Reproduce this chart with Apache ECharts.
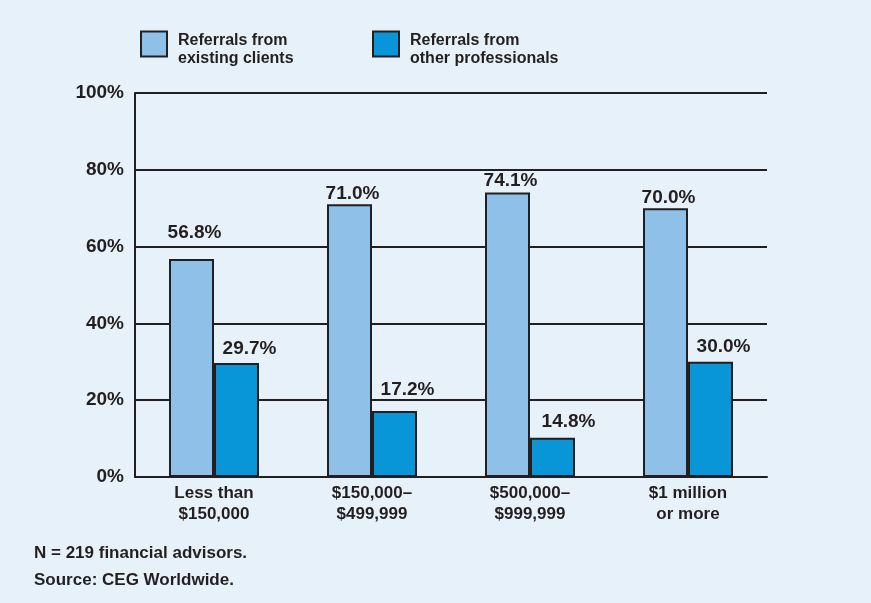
<!DOCTYPE html>
<html>
<head>
<meta charset="utf-8">
<script src="https://cdn.jsdelivr.net/npm/echarts@6/dist/echarts.min.js"></script>
<style>
  html, body { margin: 0; padding: 0; background: #e7f1fa; }
  #chart { width: 871px; height: 603px; }
</style>
</head>
<body>
<div id="chart"></div>
<script>
const categories = ['Less than\n$150,000', '$150,000–\n$499,999', '$500,000–\n$999,999', '$1 million\nor more']
// bar heights as drawn in the picture
const clientsValues = [56.8, 71.0, 74.1, 70.0]
const professionalsValues = [29.7, 17.2, 10.2, 30.0]
// printed labels above the bars
const clientsLabels = ['56.8%', '71.0%', '74.1%', '70.0%']
const professionalsLabels = ['29.7%', '17.2%', '14.8%', '30.0%']
const yTicks = [0, 20, 40, 60, 80, 100]

// label lift above each bar (px), the original sets some labels clear of gridlines
const clientsLift = [17, 1, 2, 1]
const professionalsLift = [5, 12, 7, 6]

const ink = '#231f20'
const font = 'Liberation Sans'

const myChart = echarts.init(document.getElementById('chart'))

const labelStyle = {
  show: true,
  position: 'top',
  color: ink,
  fontFamily: font,
  fontWeight: 'bold',
  fontSize: 19,
}

function buildData(values, labels, lifts, dx) {
  return values.map(function (v, i) {
    return {
      value: v,
      label: Object.assign({}, labelStyle, {
        distance: lifts[i],
        offset: [dx[i], 0],
        formatter: labels[i],
      }),
    }
  })
}

const legendBase = {
  top: 24,
  padding: 0,
  itemWidth: 26,
  itemHeight: 25,
  itemStyle: { borderColor: ink, borderWidth: 2 },
  formatter: function (name) {
    return '{s| }\n' + name.split('\n').map(function (l) { return '{t|' + l + '}' }).join('\n')
  },
  textStyle: {
    color: ink,
    fontFamily: font,
    fontWeight: 'bold',
    fontSize: 16,
    padding: [0, 0, 0, 6],
    rich: {
      s: { fontSize: 4, lineHeight: 12 },
      t: { color: ink, fontFamily: font, fontWeight: 'bold', fontSize: 16, lineHeight: 18 },
    },
  },
  icon: 'rect',
}

const option = {
  backgroundColor: '#e7f1fa',
  animation: false,
  legend: [
    Object.assign({}, legendBase, { left: 140, data: ['Referrals from\nexisting clients'] }),
    Object.assign({}, legendBase, { left: 372, data: ['Referrals from\nother professionals'] }),
  ],
  grid: { left: 135, right: 104, top: 93, bottom: 126, containLabel: false },
  xAxis: {
    type: 'category',
    data: categories,
    axisLine: { show: true, lineStyle: { color: ink, width: 2 } },
    axisTick: { show: false },
    axisLabel: {
      color: ink,
      fontFamily: font,
      fontWeight: 'bold',
      fontSize: 17,
      lineHeight: 21,
      margin: 6,
    },
  },
  yAxis: {
    type: 'value',
    min: yTicks[0],
    max: yTicks[yTicks.length - 1],
    interval: 20,
    axisLine: { show: true, lineStyle: { color: ink, width: 2 } },
    axisTick: { show: false },
    splitLine: { show: true, lineStyle: { color: ink, width: 2 } },
    axisLabel: {
      formatter: '{value}%',
      color: ink,
      fontFamily: font,
      fontWeight: 'bold',
      fontSize: 19,
      margin: 11,
    },
  },
  graphic: [
    {
      type: 'text',
      left: 34,
      top: 545,
      style: { text: 'N = 219 financial advisors.', fill: ink, font: 'bold 17px "Liberation Sans"' },
    },
    {
      type: 'text',
      left: 34,
      top: 572,
      style: { text: 'Source: CEG Worldwide.', fill: ink, font: 'bold 17px "Liberation Sans"' },
    },
  ],
  series: [
    {
      name: 'Referrals from\nexisting clients',
      type: 'bar',
      data: buildData(clientsValues, clientsLabels, clientsLift, [3, 3, 3, 3]),
      barWidth: 45,
      barGap: '0%',
      itemStyle: { color: '#8fc0e8', borderColor: ink, borderWidth: 2 },
    },
    {
      name: 'Referrals from\nother professionals',
      type: 'bar',
      data: buildData(professionalsValues, professionalsLabels, professionalsLift, [13, 13, 16, 13]),
      barWidth: 45,
      barGap: '0%',
      itemStyle: { color: '#0896d8', borderColor: ink, borderWidth: 2 },
    },
  ],
}

myChart.setOption(option)
</script>
</body>
</html>
